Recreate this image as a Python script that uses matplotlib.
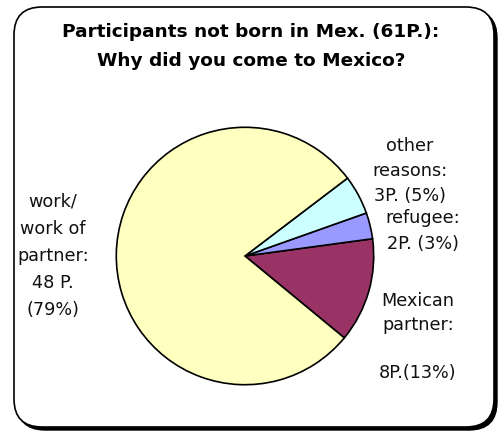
import matplotlib.pyplot as plt
from matplotlib.patches import FancyBboxPatch

plt.rcParams['font.family'] = ['DejaVu Sans']

# data (counter-clockwise from the lower right)
reasons = ['Mexican partner', 'refugee', 'other reasons', 'work/work of partner']
counts = [8, 2, 3, 48]
colors = ['#993366', '#9999ff', '#ccffff', '#ffffc0']
labels = ['Mexican\npartner:\n\n8P.(13%)', 'refugee:\n2P. (3%)',
          'other\nreasons:\n3P. (5%)', 'work/\nwork of\npartner:\n48 P.\n(79%)']
title = 'Participants not born in Mex. (61P.):\nWhy did you come to Mexico?'

W, H = 498, 432
fig = plt.figure(figsize=(W / 100, H / 100), dpi=100)

# background axes in pixel units for the frame and text
bg = fig.add_axes([0, 0, 1, 1])
bg.set_xlim(0, W)
bg.set_ylim(H, 0)
bg.axis('off')

# rounded frame with a black drop shadow
shadow = FancyBboxPatch((17, 10), 480, 420, boxstyle='round,pad=0,rounding_size=28',
                        facecolor='black', edgecolor='black', lw=1)
frame = FancyBboxPatch((14, 7), 480, 420, boxstyle='round,pad=0,rounding_size=28',
                       facecolor='white', edgecolor='black', lw=1.2)
bg.add_patch(shadow)
bg.add_patch(frame)

bg.text(251, 46.5, title, ha='center', va='center', fontsize=13.3,
        fontweight='bold', linespacing=1.75)

# label positions (pixels) and line spacing for each slice label
label_pos = [(418, 337), (423, 231), (410, 171), (53, 256)]
label_ls = [1.45, 1.55, 1.48, 1.65]
for (x, y), txt, ls in zip(label_pos, labels, label_ls):
    bg.text(x, y, txt, ha='center', va='center', fontsize=12.7,
            linespacing=ls, color='#111111')

# pie axes
cx, cy, r = 245, 256, 130
pax = fig.add_axes([(cx - r) / W, (H - cy - r) / H, 2 * r / W, 2 * r / H])
pax.pie(counts, colors=colors, startangle=-39.5, counterclock=True,
        wedgeprops=dict(edgecolor='black', linewidth=1.2))
pax.set_aspect('equal')
pax.set_xlim(-1.01, 1.01)
pax.set_ylim(-1.01, 1.01)

fig.savefig('out.png', dpi=100)
